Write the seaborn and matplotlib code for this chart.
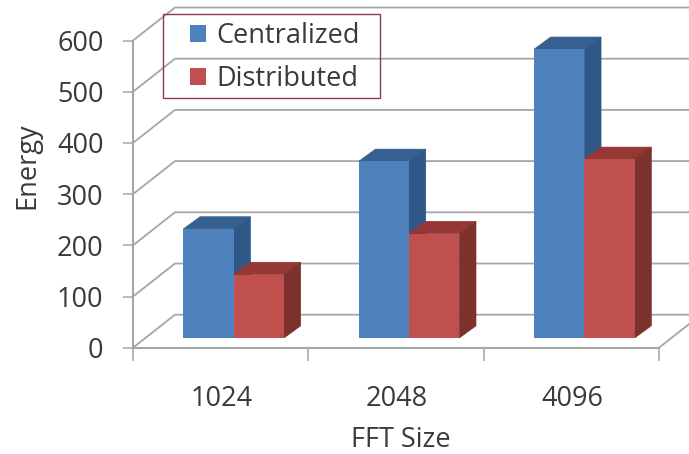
import matplotlib
matplotlib.use("Agg")
import matplotlib.pyplot as plt
from matplotlib.patches import Rectangle
import pandas as pd
import seaborn as sns

# Chart values
fft_sizes = ["1024", "2048", "4096"]
centralized = [213, 345, 564]
distributed = [124, 204, 349]
series_names = ["Centralized", "Distributed"]
y_ticks = [0, 100, 200, 300, 400, 500, 600]

# Colours per series: front, top, side
COLORS = {
    "Centralized": ("#4F81BD", "#35608F", "#2F5787"),
    "Distributed": ("#C0504D", "#953735", "#7D312D"),
}
GRID = "#A6A6A6"
TEXT = "#3A3A3A"
FONT = 19.5

# Canvas geometry in pixels
W, H = 689, 454
FLOOR_LEFT, FLOOR_RIGHT, FLOOR_Y, TOP600_Y = 133.0, 659.0, 347.7, 40.5
PX_PER_CAT = (FLOOR_RIGHT - FLOOR_LEFT) / 3
PX_PER_UNIT = (FLOOR_Y - TOP600_Y) / 600
WALL_DX, WALL_DY = 42 / PX_PER_CAT, 33 / PX_PER_UNIT
BAR_SHIFT_X, BAR_SHIFT_Y = 13.0, 9.7
BAR_DX, BAR_DY = 16.7 / PX_PER_CAT, 12.2 / PX_PER_UNIT

sns.set_style("white")
plt.rcParams["font.family"] = ["Open Sans", "DejaVu Sans"]

fig = plt.figure(figsize=(W / 100, H / 100), dpi=100)


def place_axes(left_px, floor_px):
    ax = fig.add_axes([left_px / W, (H - floor_px) / H, (W - left_px) / W, floor_px / H])
    ax.set_xlim(-0.5, -0.5 + (W - left_px) / PX_PER_CAT)
    ax.set_ylim(0, floor_px / PX_PER_UNIT)
    ax.patch.set_alpha(0)
    return ax


# Frame: walls, floor, ticks and labels
frame = place_axes(FLOOR_LEFT, FLOOR_Y)
x_end = frame.get_xlim()[1]
for v in y_ticks:
    frame.plot([-0.5, -0.5 + WALL_DX, x_end], [v, v + WALL_DY, v + WALL_DY],
               color=GRID, lw=1.3, clip_on=False, zorder=1)
frame.plot([2.5, 2.5 + WALL_DX], [0, WALL_DY], color=GRID, lw=1.3, zorder=1)

for side in ("top", "right"):
    frame.spines[side].set_visible(False)
for side in ("left", "bottom"):
    frame.spines[side].set_color(GRID)
    frame.spines[side].set_linewidth(1.5)
frame.spines["left"].set_bounds(0, 600)
frame.spines["bottom"].set_bounds(-0.5, 2.5)
frame.set_yticks(y_ticks)
frame.set_xticks([-0.5, 0.5, 1.5, 2.5])
frame.set_xticklabels([])
frame.tick_params(axis="y", length=7.2, width=1.1, color=GRID, pad=14,
                  labelsize=FONT, labelcolor=TEXT, left=True)
frame.tick_params(axis="x", length=9, width=1.1, color=GRID, bottom=True)
for i, name in enumerate(fft_sizes):
    frame.annotate(name, (i, 0), xytext=(0.7, -37), xycoords="data",
                   textcoords="offset points", ha="center", va="center",
                   fontsize=FONT, color=TEXT, annotation_clip=False)
fig.text(27 / W, 1 - 166 / H, "Energy", rotation=90, ha="center", va="center",
         fontsize=FONT, color=TEXT)
fig.text(400.5 / W, 1 - 440 / H, "FFT Size", ha="center", va="center",
         fontsize=FONT, color=TEXT)

# Bars stand a little behind the front edge of the floor
bars = place_axes(FLOOR_LEFT + BAR_SHIFT_X, FLOOR_Y - BAR_SHIFT_Y)
table = pd.DataFrame({
    "FFT Size": fft_sizes * 2,
    "Energy": centralized + distributed,
    "Series": [series_names[0]] * 3 + [series_names[1]] * 3,
})
sns.barplot(data=table, x="FFT Size", y="Energy", hue="Series", order=fft_sizes,
            hue_order=series_names, palette={k: c[0] for k, c in COLORS.items()},
            width=0.5735, gap=0, saturation=1, linewidth=0, errorbar=None, ax=bars)
bars.set_xlim(-0.5, -0.5 + (W - FLOOR_LEFT - BAR_SHIFT_X) / PX_PER_CAT)
bars.set_ylim(0, (FLOOR_Y - BAR_SHIFT_Y) / PX_PER_UNIT)
handles, labels = bars.get_legend_handles_labels()
bars.get_legend().remove()
bars.axis("off")

# Extrude each bar from its own height to give the top and side faces
for level, (name, container) in enumerate(zip(series_names, bars.containers)):
    _, top_color, side_color = COLORS[name]
    for patch in container:
        patch.set_zorder(5)
        x0, w, h = patch.get_x(), patch.get_width(), patch.get_height()
        x1 = x0 + w
        bars.fill([x0, x0 + BAR_DX, x1 + BAR_DX, x1],
                  [h, h + BAR_DY, h + BAR_DY, h],
                  facecolor=top_color, edgecolor=top_color, lw=0.5, zorder=2 + level)
        bars.fill([x1, x1 + BAR_DX, x1 + BAR_DX, x1],
                  [0, BAR_DY, h + BAR_DY, h],
                  facecolor=side_color, edgecolor=side_color, lw=0.5, zorder=2 + level)

# Legend: open box with the gridlines showing through it
fig.add_artist(Rectangle((162.5 / W, 1 - 98.3 / H), 217.2 / W, 84.3 / H,
                         transform=fig.transFigure, fill=False,
                         edgecolor="#8E3A4A", lw=1.0))
bars.legend(handles, labels, loc="upper left", frameon=False, fontsize=FONT,
            bbox_to_anchor=(184.5 / W, 1 - 16.5 / H), bbox_transform=fig.transFigure,
            borderaxespad=0, borderpad=0.2, handlelength=0.6, handleheight=0.6,
            handletextpad=0.37, labelspacing=0.55, labelcolor=TEXT)

fig.savefig("out.png", dpi=100)
